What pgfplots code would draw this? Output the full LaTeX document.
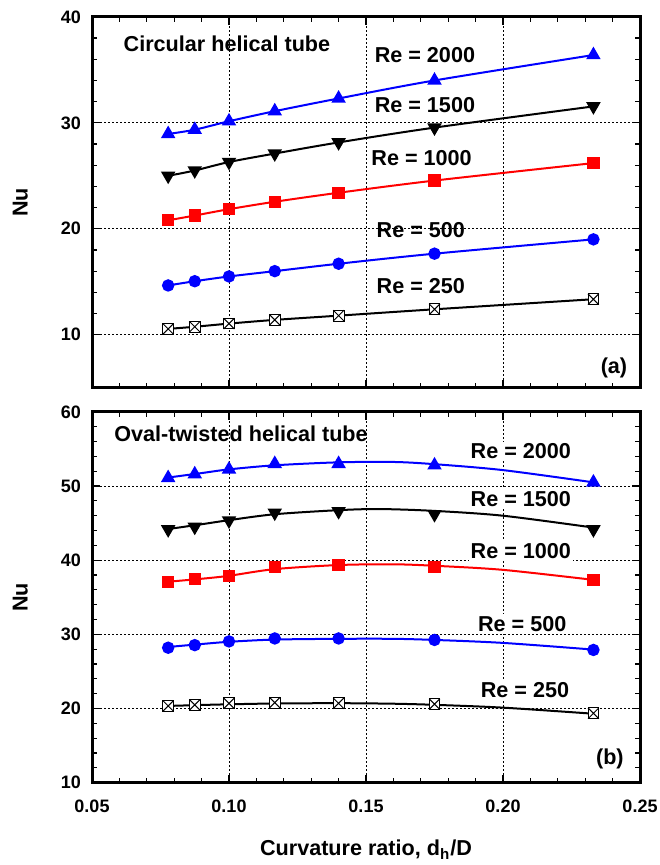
\documentclass[border=0pt]{standalone}
\usepackage{fontspec}
\setmainfont{Liberation Sans}
\usepackage{pgfplots}
\pgfplotsset{compat=1.18}

% square with a cross inside (Re = 250)
\pgfdeclareplotmark{boxx}{%
  \pgfpathrectangle{\pgfqpoint{-\pgfplotmarksize}{-\pgfplotmarksize}}{\pgfqpoint{2\pgfplotmarksize}{2\pgfplotmarksize}}%
  \pgfusepathqfillstroke
  \pgfpathmoveto{\pgfqpoint{-\pgfplotmarksize}{-\pgfplotmarksize}}%
  \pgfpathlineto{\pgfqpoint{\pgfplotmarksize}{\pgfplotmarksize}}%
  \pgfpathmoveto{\pgfqpoint{-\pgfplotmarksize}{\pgfplotmarksize}}%
  \pgfpathlineto{\pgfqpoint{\pgfplotmarksize}{-\pgfplotmarksize}}%
  \pgfusepathqstroke
}

\newcommand{\lblfont}{\fontsize{10.8}{12}\selectfont\bfseries}
\tikzset{
  lbl/.style={font=\lblfont},
  relbl/.style={font=\lblfont, fill=white, inner sep=1pt},
}

\pgfplotsset{
  nuaxis/.style={
    scale only axis, width=274pt, height=185.4pt,
    xmin=0.05, xmax=0.25,
    xtick={0.05,0.1,0.15,0.2,0.25},
    minor x tick num=4, minor y tick num=4,
    tick align=inside, major tick length=4pt, minor tick length=2.5pt,
    axis line style={line width=1.5pt},
    every tick/.style={black, line width=0.6pt},
    grid=major,
    major grid style={black, line width=0.4pt, dash pattern=on 1pt off 1pt},
    ticklabel style={font=\fontsize{9}{10}\selectfont\bfseries},
    xticklabel style={yshift=-5pt},
    yticklabel style={xshift=-2pt},
    /pgf/number format/assume math mode=true,
    xticklabel={\pgfmathprintnumber[fixed, fixed zerofill, precision=2]{\tick}},
    ylabel={Nu},
    ylabel style={font=\lblfont, at={(axis description cs:-0.131,0.5)}, anchor=center},
  },
  c2000/.style={blue, line width=1pt, mark=triangle*, mark size=3.2pt, mark options={solid, fill=blue}},
  c1500/.style={black, line width=1pt, mark=triangle*, mark size=3.2pt, mark options={solid, fill=black, rotate=180}},
  c1000/.style={red, line width=1pt, mark=square*, mark size=2.6pt, mark options={solid, fill=red}},
  c500/.style={blue, line width=1pt, mark=*, mark size=2.6pt, mark options={solid, fill=blue}},
  c250/.style={black, line width=1pt, mark=boxx, mark size=2.7pt, mark options={solid, fill=white, line width=0.5pt}},
}

\begin{document}
\begin{tikzpicture}

% (a) circular helical tube
\begin{axis}[nuaxis, at={(46pt,238.65pt)}, anchor=south west,
  ymin=5, ymax=40, ytick={10,20,30,40}, xticklabels={}]
  \addplot[c2000, smooth] coordinates {(0.0778,28.95) (0.0875,29.35) (0.1,30.15) (0.1167,31.1) (0.14,32.3) (0.175,34.0) (0.233,36.4)};
  \addplot[c1500, smooth] coordinates {(0.0778,25.0) (0.0875,25.5) (0.1,26.3) (0.1167,27.1) (0.14,28.15) (0.175,29.55) (0.233,31.55)};
  \addplot[c1000, smooth] coordinates {(0.0778,20.8) (0.0875,21.25) (0.1,21.85) (0.1167,22.55) (0.14,23.4) (0.175,24.55) (0.233,26.2)};
  \addplot[c500, smooth] coordinates {(0.0778,14.65) (0.0875,15.05) (0.1,15.5) (0.1167,16.0) (0.14,16.7) (0.175,17.65) (0.233,19.0)};
  \addplot[c250, smooth] coordinates {(0.0778,10.55) (0.0875,10.75) (0.1,11.05) (0.1167,11.4) (0.14,11.8) (0.175,12.4) (0.233,13.35)};
  \node[lbl, anchor=west] at (axis cs:0.059,37.5) {Circular helical tube};
  \node[lbl] at (axis cs:0.1715,36.4) {Re = 2000};
  \node[lbl] at (axis cs:0.1715,31.7) {Re = 1500};
  \node[lbl] at (axis cs:0.1703,26.67) {Re = 1000};
  \node[lbl] at (axis cs:0.170,19.84) {Re = 500};
  \node[lbl] at (axis cs:0.170,14.58) {Re = 250};
  \node[lbl] at (axis cs:0.2405,6.9) {(a)};
\end{axis}

% (b) oval-twisted helical tube: fitted curves, then measured points
\begin{axis}[nuaxis, at={(46pt,41.15pt)}, anchor=south west,
  ymin=10, ymax=60, ytick={10,20,30,40,50,60},
  xlabel={Curvature ratio, d\textsubscript{h}/D},
  xlabel style={font=\lblfont, at={(axis description cs:0.5,-0.181)}, anchor=center}]
  % fitted curves
  \addplot[blue, line width=1pt, smooth, no marks] coordinates {(0.0778,51.15) (0.09,51.75) (0.1,52.25) (0.1167,52.8) (0.14,53.2) (0.16,53.25) (0.175,52.95) (0.2,52.15) (0.233,50.5)};
  \addplot[black, line width=1pt, smooth, no marks] coordinates {(0.0778,44.2) (0.09,44.85) (0.1,45.4) (0.1167,46.2) (0.14,46.75) (0.155,46.9) (0.175,46.65) (0.2,46.0) (0.233,44.4)};
  \addplot[red, line width=1pt, smooth, no marks] coordinates {(0.0778,37.1) (0.09,37.5) (0.1,37.9) (0.1167,38.8) (0.14,39.35) (0.16,39.45) (0.175,39.25) (0.2,38.7) (0.233,37.35)};
  \addplot[blue, line width=1pt, smooth, no marks] coordinates {(0.0778,28.3) (0.09,28.7) (0.1,29.0) (0.1167,29.3) (0.14,29.4) (0.16,29.4) (0.175,29.25) (0.2,28.85) (0.233,27.95)};
  \addplot[black, line width=1pt, smooth, no marks] coordinates {(0.0778,20.35) (0.09,20.48) (0.1,20.57) (0.1167,20.68) (0.14,20.72) (0.16,20.65) (0.175,20.5) (0.2,20.12) (0.233,19.3)};
  % measured points
  \addplot[c2000, only marks] coordinates {(0.0778,51.1) (0.0875,51.6) (0.1,52.25) (0.1167,53.0) (0.14,53.0) (0.175,52.8) (0.233,50.5)};
  \addplot[c1500, only marks] coordinates {(0.0778,44.15) (0.0875,44.5) (0.1,45.35) (0.1167,46.4) (0.14,46.6) (0.175,46.2) (0.233,44.15)};
  \addplot[c1000, only marks] coordinates {(0.0778,37.1) (0.0875,37.5) (0.1,37.9) (0.1167,39.05) (0.14,39.35) (0.175,39.1) (0.233,37.3)};
  \addplot[c500, only marks] coordinates {(0.0778,28.2) (0.0875,28.55) (0.1,29.05) (0.1167,29.45) (0.14,29.45) (0.175,29.25) (0.233,27.9)};
  \addplot[c250, only marks] coordinates {(0.0778,20.35) (0.0875,20.5) (0.1,20.7) (0.1167,20.8) (0.14,20.7) (0.175,20.6) (0.233,19.35)};
  \node[lbl, anchor=west] at (axis cs:0.0556,57.1) {Oval-twisted helical tube};
  \node[relbl] at (axis cs:0.2065,54.7) {Re = 2000};
  \node[relbl] at (axis cs:0.2065,48.25) {Re = 1500};
  \node[relbl] at (axis cs:0.2065,41.25) {Re = 1000};
  \node[relbl] at (axis cs:0.207,31.4) {Re = 500};
  \node[relbl] at (axis cs:0.208,22.55) {Re = 250};
  \node[lbl] at (axis cs:0.239,13.2) {(b)};
\end{axis}

\pgfresetboundingbox
\path[use as bounding box] (0,0) rectangle (329.5pt,432.5pt);
\end{tikzpicture}
\end{document}
